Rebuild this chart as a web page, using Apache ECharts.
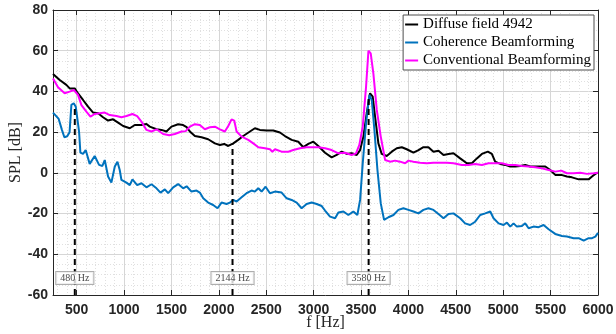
<!DOCTYPE html>
<html>
<head>
<meta charset="utf-8">
<script src="https://cdn.jsdelivr.net/npm/echarts@6/dist/echarts.min.js"></script>
<style>
  html, body { margin: 0; padding: 0; background: #fff; }
  #chart { width: 616px; height: 334px; }
</style>
</head>
<body>
<div id="chart"></div>
<script>
const seriesNames = ["Diffuse field 4942", "Coherence Beamforming", "Conventional Beamforming"];
const seriesColors = ["#000000", "#0072BD", "#FF00FF"];

// [frequency Hz, SPL dB]
const diffuse = [
  [250, 48.6], [321, 45.6], [391, 43.2], [426, 41.5], [479, 41.5], [514, 39], [567, 35.8], [620, 32.5],
  [673, 29.6], [726, 29.3], [778, 27.3], [831, 25.7], [884, 26.3], [937, 24.7], [990, 23], [1060, 21.9],
  [1113, 23.5], [1183, 23.5], [1236, 24], [1271, 22.7], [1342, 21.4], [1395, 21.1], [1447, 20.3],
  [1500, 22.7], [1570, 23.9], [1623, 23.5], [1660, 22.5], [1694, 20.3], [1747, 18.1], [1817, 17.5],
  [1887, 16.5], [1958, 14.5], [2011, 13.7], [2056, 14.2], [2099, 13.2], [2152, 14.5], [2204, 16.2],
  [2257, 18.1], [2328, 20.3], [2380, 21.9], [2433, 21.1], [2504, 20.8], [2574, 20.8], [2644, 19.8],
  [2697, 18.1], [2768, 16.2], [2838, 15.3], [2891, 12.6], [2944, 14.2], [2997, 15.3], [3049, 13.2],
  [3120, 9.9], [3190, 7.6], [3243, 8.8], [3296, 10.4], [3349, 9.3], [3401, 9.6], [3454, 8.8],
  [3490, 11.2], [3525, 17.8], [3560, 29.3], [3595, 39.1], [3623, 37.4], [3648, 27.6], [3683, 14.5],
  [3718, 9.3], [3771, 8.3], [3824, 10.4], [3877, 12.1], [3930, 12.6], [3982, 11.6], [4053, 9.9],
  [4106, 11.2], [4158, 12.6], [4211, 12.6], [4264, 10.4], [4317, 10.9], [4370, 8.8], [4423, 9.3],
  [4475, 9.6], [4546, 7.1], [4616, 4.7], [4669, 4.7], [4722, 7.1], [4775, 9.3], [4838, 10.4],
  [4880, 9.3], [4915, 5.5], [4968, 4.4], [5021, 3.9], [5074, 3.1], [5127, 3.1], [5180, 3.4],
  [5232, 3.9], [5285, 3.1], [5338, 3.1], [5391, 3.1], [5444, 3.1], [5496, 1.4], [5549, -1.0],
  [5613, -1.0], [5672, -1.8], [5725, -2.2], [5796, -3.2], [5849, -3.2], [5901, -3.2], [5937, -1.8],
  [5972, -0.5], [6000, 0.1]
];

const coherence = [
  [250, 29.6], [310, 26.5], [345, 21], [370, 17.5], [400, 18], [425, 20], [444, 33.4], [469, 34.2],
  [490, 32.5], [525, 20.2], [539, 9.9], [567, 9.3], [595, 11.2], [637, 4.4], [690, 8.3], [736, 3.9],
  [771, 3.4], [796, 6.3], [831, -1.8], [866, -4.8], [902, 3.1], [930, 5.5], [954, 1.4], [972, -3.5],
  [1025, -4.8], [1060, -6], [1088, -3.2], [1138, -6], [1183, -5.1], [1236, -7.1], [1289, -5.6],
  [1342, -7.6], [1384, -9.7], [1430, -8.1], [1465, -10], [1518, -7.1], [1570, -5.5], [1623, -7.6],
  [1660, -6.6], [1711, -9.2], [1764, -8.7], [1799, -9.7], [1835, -12.5], [1887, -14.6], [1940, -15.8],
  [1986, -17.4], [2028, -14.6], [2081, -15.3], [2116, -14.6], [2152, -13.3], [2187, -14.1], [2240, -12],
  [2292, -10], [2345, -8.7], [2380, -9.2], [2416, -7.6], [2451, -9.2], [2493, -6.8], [2539, -10],
  [2592, -9.2], [2662, -9.7], [2715, -12.5], [2768, -13.3], [2821, -14.6], [2873, -17.4], [2926, -15.3],
  [2979, -14.6], [3032, -15.3], [3085, -16.3], [3120, -18.5], [3173, -21.5], [3226, -22.3], [3261, -19.5],
  [3314, -19], [3366, -20.7], [3419, -19], [3461, -20.7], [3490, -13.3], [3518, 4.7], [3553, 24.4],
  [3588, 38.3], [3613, 35.8], [3641, 21.1], [3673, 1.4], [3708, -15], [3743, -23.1], [3789, -21.8],
  [3842, -20.7], [3894, -18.2], [3947, -17.4], [4000, -18.2], [4053, -19], [4106, -19.9], [4158, -18.2],
  [4211, -17.4], [4264, -18.2], [4317, -20.2], [4370, -22.3], [4423, -20.2], [4475, -19.9], [4546, -22.3],
  [4598, -24.8], [4651, -25.6], [4704, -24], [4757, -20.7], [4810, -19.9], [4863, -19], [4898, -22.3],
  [4951, -24.8], [5004, -25.6], [5039, -24.4], [5074, -26.4], [5109, -24.8], [5144, -26.4], [5197, -26.1],
  [5232, -24.8], [5268, -27.2], [5320, -26.4], [5373, -26.7], [5426, -25.6], [5479, -27.7], [5549, -30],
  [5620, -31], [5672, -31.3], [5743, -32.1], [5796, -32.1], [5849, -33.3], [5901, -32.1], [5937, -32.1],
  [5972, -31.3], [6000, -29.5]
];

const conventional = [
  [250, 46.4], [303, 42], [373, 39.1], [426, 39.9], [469, 40.7], [514, 38.3], [550, 33.3], [602, 30.1],
  [645, 27.6], [690, 28.9], [743, 29.3], [796, 29.6], [849, 28.4], [919, 27.9], [972, 27.3], [1025, 27.9],
  [1088, 28.9], [1138, 27.9], [1183, 25.2], [1236, 21.1], [1289, 20.3], [1342, 21.4], [1412, 19.1],
  [1476, 18.5], [1535, 19.1], [1606, 20.3], [1650, 20.5], [1694, 22.7], [1747, 23.9], [1799, 23.5],
  [1852, 21.4], [1905, 22.4], [1958, 22.7], [2011, 21.4], [2063, 20.3], [2099, 23], [2134, 26.3],
  [2162, 25.7], [2187, 20.3], [2240, 17.8], [2310, 16.2], [2363, 14.5], [2416, 12.6], [2486, 12.1],
  [2539, 11.6], [2564, 10.4], [2592, 11.6], [2662, 10.4], [2733, 10.4], [2785, 11.2], [2856, 12.1],
  [2926, 12.6], [2997, 12.6], [3049, 12.6], [3120, 12.1], [3190, 11.2], [3261, 9.6], [3331, 9.9],
  [3401, 8.8], [3447, 9.6], [3482, 13.7], [3518, 22.7], [3553, 42.4], [3578, 60], [3602, 58.7],
  [3630, 48.9], [3666, 30.9], [3708, 17.8], [3754, 6.3], [3806, 5.5], [3859, 6], [3912, 5.5],
  [3965, 4.7], [4000, 6], [4053, 5.5], [4123, 5], [4194, 4.7], [4264, 5], [4335, 5], [4405, 5],
  [4475, 4.7], [4563, 3.9], [4634, 3.9], [4704, 4.4], [4775, 3.9], [4845, 4.7], [4915, 4.7],
  [4986, 4.7], [5056, 3.9], [5127, 3.9], [5197, 3.4], [5268, 3.1], [5338, 2.7], [5408, 2.2],
  [5479, 1.4], [5549, 0.6], [5613, 1.1], [5672, -0.2], [5743, -0.2], [5813, 0.1], [5884, -0.5],
  [5954, -0.2], [6000, 0.1]
];

// dashed markers: frequency and the level where the dashed line stops
const markerFreqs = [480, 2144, 3580];
const markerTops = [33, 14, 38];
const markerLabelLevel = -51.6;

const xMin = 250, xMax = 6000;
const yMin = -60, yMax = 80, yStep = 20;
const xTicks = [500, 1000, 1500, 2000, 2500, 3000, 3500, 4000, 4500, 5000, 5500, 6000];
const xMinorTicks = [];
for (let f = 300; f <= xMax; f += 100) if (f % 500) xMinorTicks.push(f);

const axisColor = "#262626";
const tickFont = { color: axisColor, fontFamily: "Liberation Sans", fontWeight: "bold", fontSize: 14 };
const serif = "Liberation Serif";
const axisLine = { show: true, onZero: false, lineStyle: { color: axisColor, width: 1 } };
const majorGrid = { show: true, lineStyle: { color: "#d6d6d6", width: 1 } };
const minorGrid = { show: true, lineStyle: { color: "#e0e0e0", width: 1, type: [1, 2] } };

const chart = echarts.init(document.getElementById("chart"), null, { renderer: "canvas" });
chart.setOption({
  animation: false,
  backgroundColor: "#fff",
  grid: { left: 53, right: 18, top: 10, bottom: 39, outerBoundsMode: "none" },
  legend: {
    data: seriesNames,
    orient: "vertical",
    right: 22, top: 15,
    icon: "rect", itemWidth: 13, itemHeight: 2, itemGap: 1,
    padding: [1, 3, 1, 2],
    backgroundColor: "#fff", borderColor: "#4d4d4d", borderWidth: 1,
    textStyle: { fontFamily: serif, fontSize: 15, color: "#000", lineHeight: 17 }
  },
  xAxis: [
    {
      type: "value", min: xMin, max: xMax, position: "bottom",
      name: "f [Hz]", nameLocation: "middle", nameGap: 20, nameMoveOverlap: false,
      nameTextStyle: { fontFamily: serif, fontSize: 16, color: axisColor },
      axisLine,
      axisTick: { show: true, inside: true, length: 5, customValues: xTicks, lineStyle: { color: axisColor } },
      axisLabel: { customValues: xTicks, margin: 8, formatter: v => String(v), ...tickFont },
      splitLine: majorGrid
    },
    {
      type: "value", min: xMin, max: xMax, position: "top",
      axisLine,
      axisTick: { show: true, inside: true, length: 5, customValues: xTicks, lineStyle: { color: axisColor } },
      axisLabel: { show: false },
      splitLine: { show: false }
    },
    {
      type: "value", min: xMin, max: xMax, position: "bottom",
      axisLine: { show: false },
      axisTick: { show: false, customValues: xMinorTicks },
      axisLabel: { show: false },
      splitLine: minorGrid
    }
  ],
  yAxis: [
    {
      type: "value", min: yMin, max: yMax, interval: yStep, position: "left",
      name: "SPL [dB]", nameLocation: "middle", nameGap: 29, nameMoveOverlap: false,
      nameTextStyle: { fontFamily: serif, fontSize: 16, color: axisColor },
      axisLine,
      axisTick: { show: true, inside: true, length: 5, lineStyle: { color: axisColor } },
      axisLabel: { margin: 5, ...tickFont },
      splitLine: majorGrid,
      minorTick: { show: false, splitNumber: 4 },
      minorSplitLine: minorGrid
    },
    {
      type: "value", min: yMin, max: yMax, interval: yStep, position: "right",
      axisLine,
      axisTick: { show: true, inside: true, length: 5, lineStyle: { color: axisColor } },
      axisLabel: { show: false },
      splitLine: { show: false }
    }
  ],
  series: [
    ...[diffuse, coherence, conventional].map((data, i) => ({
      name: seriesNames[i], type: "line", data, showSymbol: false, z: 2,
      lineStyle: { color: seriesColors[i], width: 2 }, itemStyle: { color: seriesColors[i] }
    })),
    ...markerFreqs.map((f, i) => ({
      name: "marker " + f, type: "line", showSymbol: false, z: 3,
      data: [[f, yMin], [f, markerTops[i]]],
      lineStyle: { color: "#000", width: 2, type: [6, 4] }
    })),
    {
      name: "marker labels", type: "scatter", z: 5, symbolSize: 1,
      itemStyle: { color: "transparent" },
      data: markerFreqs.map(f => [f, markerLabelLevel]),
      label: {
        show: true, position: "inside", formatter: p => p.value[0] + " Hz",
        fontFamily: serif, fontSize: 10, lineHeight: 10, color: "#111",
        backgroundColor: "#fff", borderColor: "#9a9a9a", borderWidth: 1, padding: [1, 4]
      }
    }
  ]
});
</script>
</body>
</html>
